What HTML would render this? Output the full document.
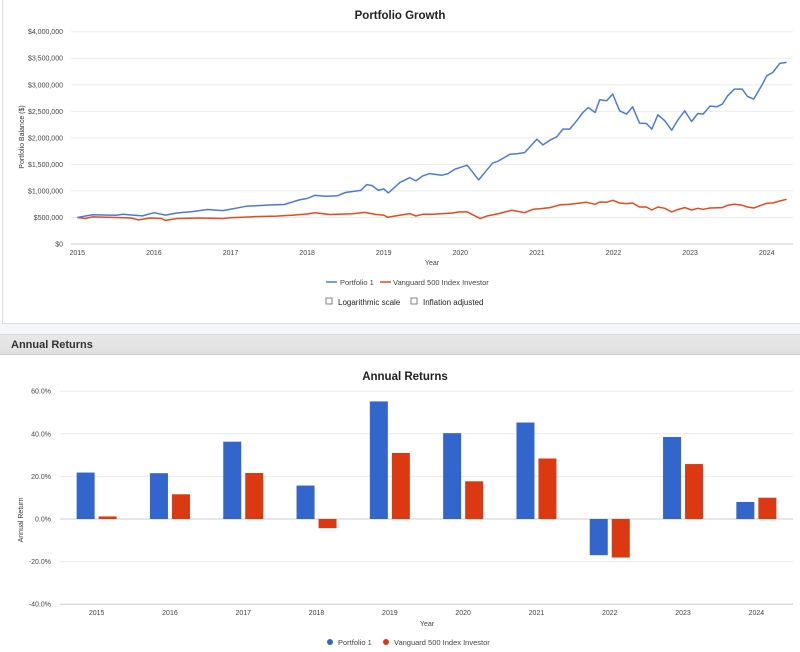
<!DOCTYPE html>
<html><head><meta charset="utf-8"><style>
body{margin:0;width:800px;height:652px;background:#fff;font-family:"Liberation Sans",sans-serif;overflow:hidden;position:relative}
#top{position:absolute;left:2px;top:0;width:800px;height:323px;border-left:1px solid #ddd;border-bottom:1px solid #ddd;background:#fff}
#gap{position:absolute;left:0;top:324px;width:800px;height:10px;background:#f5f6fa}
#hdr{position:absolute;left:0;top:334px;width:800px;height:21px;background:linear-gradient(#e8e8e8,#e0e0e0);border-top:1px solid #d8d8d8;border-bottom:1px solid #ccc;font-weight:bold;font-size:11px;line-height:21px;color:#333;padding-left:11px;box-sizing:border-box}
svg{position:absolute;left:0;top:0}
text{font-family:"Liberation Sans",sans-serif}
</style></head><body>
<div id="top"></div>
<div id="gap"></div>
<div id="hdr">Annual Returns</div>
<svg id="svg" width="800" height="652">
<text x="400" y="19" text-anchor="middle" font-size="11.5" font-weight="bold" fill="#222">Portfolio Growth</text>
<g id="g1"></g>
<text x="405" y="380" text-anchor="middle" font-size="11.5" font-weight="bold" fill="#222">Annual Returns</text>
<g id="g2"></g>
<g>
<line x1="326" y1="282" x2="337" y2="282" stroke="#4a7bdc" stroke-width="1.5"/>
<text x="340" y="285" font-size="7.5" fill="#444">Portfolio 1</text>
<line x1="380" y1="282" x2="391" y2="282" stroke="#e8491d" stroke-width="1.5"/>
<text x="393" y="285" font-size="7.5" fill="#444">Vanguard 500 Index Investor</text>
</g>
<rect x="326" y="298" width="6" height="6" fill="#fff" stroke="#666" stroke-width="0.8"/>
<text x="338" y="305" font-size="8" fill="#222">Logarithmic scale</text>
<rect x="411" y="298" width="6" height="6" fill="#fff" stroke="#666" stroke-width="0.8"/>
<text x="423" y="305" font-size="8" fill="#222">Inflation adjusted</text>
<g>
<circle cx="330" cy="642" r="3" fill="#3366cc"/>
<text x="338" y="645" font-size="7.5" fill="#444">Portfolio 1</text>
<circle cx="386" cy="642" r="3" fill="#dc3912"/>
<text x="394" y="645" font-size="7.5" fill="#444">Vanguard 500 Index Investor</text>
</g>
</svg>
<script>
const growthTicks=[0,500000,1000000,1500000,2000000,2500000,3000000,3500000,4000000];
const yearTicks=[2015,2016,2017,2018,2019,2020,2021,2022,2023,2024];
const p1Dates=[2015.00,2015.2,2015.5,2015.6,2015.85,2016.0,2016.15,2016.3,2016.5,2016.7,2016.9,2017.0,2017.2,2017.5,2017.7,2017.9,2018.0,2018.1,2018.25,2018.4,2018.5,2018.7,2018.78,2018.85,2018.93,2019.0,2019.06,2019.21,2019.34,2019.42,2019.51,2019.60,2019.76,2019.84,2019.93,2020.09,2020.24,2020.42,2020.50,2020.65,2020.75,2020.84,2020.94,2021.00,2021.08,2021.17,2021.26,2021.34,2021.43,2021.52,2021.60,2021.67,2021.76,2021.82,2021.91,2021.99,2022.08,2022.17,2022.25,2022.34,2022.43,2022.50,2022.58,2022.67,2022.76,2022.84,2022.93,2023.02,2023.10,2023.17,2023.26,2023.35,2023.42,2023.49,2023.58,2023.68,2023.75,2023.83,2023.94,2024.00,2024.08,2024.17,2024.26];
const p1Values=[500,550,540,560,530,590,545,585,610,650,630,655,710,735,745,830,860,915,900,910,970,1010,1120,1100,1010,1040,960,1157,1251,1189,1283,1327,1296,1327,1409,1484,1208,1522,1566,1692,1704,1723,1881,1975,1868,1956,2019,2164,2164,2321,2478,2572,2478,2717,2698,2824,2509,2447,2585,2277,2270,2164,2434,2321,2145,2334,2509,2308,2459,2447,2598,2585,2636,2792,2918,2918,2780,2730,3000,3170,3232,3402,3421];
const vgDates=[2015.0,2015.1,2015.2,2015.5,2015.7,2015.8,2015.95,2016.1,2016.15,2016.3,2016.6,2016.9,2017.0,2017.3,2017.6,2017.8,2018.0,2018.1,2018.3,2018.6,2018.75,2018.9,2019.0,2019.05,2019.21,2019.34,2019.42,2019.51,2019.64,2019.77,2019.90,2019.99,2020.09,2020.26,2020.35,2020.50,2020.67,2020.84,2020.95,2021.04,2021.17,2021.30,2021.43,2021.65,2021.76,2021.82,2021.91,2021.99,2022.08,2022.17,2022.25,2022.34,2022.43,2022.50,2022.58,2022.67,2022.76,2022.84,2022.93,2023.02,2023.10,2023.17,2023.26,2023.42,2023.49,2023.58,2023.68,2023.75,2023.83,2023.94,2024.00,2024.08,2024.17,2024.26];
const vgValues=[500,480,510,500,490,455,490,480,445,480,490,480,495,515,525,540,565,590,555,570,595,555,545,505,541,572,528,560,560,572,585,604,604,478,528,572,635,591,654,666,685,736,748,786,748,792,786,824,773,761,773,698,698,641,698,673,604,648,685,641,673,654,679,685,729,748,729,698,679,736,767,773,811,842];
const retCategories=["2015","2016","2017","2018","2019","2020","2021","2022","2023","2024"];
const p1Returns=[21.8,21.5,36.3,15.7,55.2,40.3,45.3,-17.0,38.5,8.0];
const vgReturns=[1.2,11.6,21.6,-4.3,31.0,17.7,28.4,-18.1,25.8,10.0];
const retTicks=[-40,-20,0,20,40,60];
const NS='http://www.w3.org/2000/svg';
function mk(p,t,a){const e=document.createElementNS(NS,t);for(const k in a)e.setAttribute(k,a[k]);p.appendChild(e);return e;}
// growth chart
const g1=document.getElementById('g1');
const gx=d=>77.3+(d-2015)*76.6, gy=v=>244-v/4000000*212.3;
growthTicks.forEach(t=>{
 const l=mk(g1,'line',{x1:71,x2:793,y1:gy(t),y2:gy(t),stroke:t===0?'#ccc':'#ebebeb','stroke-width':1});
 
 
 const tx=mk(g1,'text',{x:63,y:gy(t)+2.5,'text-anchor':'end','font-size':7,fill:'#444'});
 tx.textContent='$'+t.toLocaleString('en-US');
 
 
});
yearTicks.forEach(y=>{
 const tx=mk(g1,'text',{x:gx(y),y:255,'text-anchor':'middle','font-size':7,fill:'#444'});
 tx.textContent=y;
 
 
});
let t=mk(g1,'text',{x:432,y:265,'text-anchor':'middle','font-size':7,fill:'#444'});t.textContent='Year';


t=mk(g1,'text',{transform:'translate(24,137) rotate(-90)','text-anchor':'middle','font-size':7,fill:'#333'});t.textContent='Portfolio Balance ($)';


function line(ds,vs,c,name){
 const pts=ds.map((d,i)=>gx(d).toFixed(1)+','+gy(vs[i]*1000).toFixed(1)).join(' ');
 const pl=mk(g1,'polyline',{points:pts,fill:'none',stroke:c,'stroke-width':1.5,'stroke-linejoin':'round'});
 
 
}
line(vgDates,vgValues,'#e8491d','vanguard-line');
line(p1Dates,p1Values,'#4a7bdc','portfolio-1-line');
// returns chart
const g2=document.getElementById('g2');
const ry=v=>519-v/20*42.6, cw=73.3, bx=i=>60+cw*(i+0.5);
retTicks.forEach(v=>{
 const l=mk(g2,'line',{x1:60,x2:793,y1:ry(v),y2:ry(v),stroke:(v===0||v===-40)?'#ccc':'#ebebeb','stroke-width':1});
 
 
 const tx=mk(g2,'text',{x:51,y:ry(v)+2.5,'text-anchor':'end','font-size':7,fill:'#444'});
 tx.textContent=v.toFixed(1)+'%';
 
 
});
retCategories.forEach((c,i)=>{
 const tx=mk(g2,'text',{x:bx(i),y:615,'text-anchor':'middle','font-size':7,fill:'#444'});
 tx.textContent=c;
 
 
 [[p1Returns[i],'#3366cc',-20,'bar-portfolio-1-'+c],[vgReturns[i],'#dc3912',2,'bar-vanguard-'+c]].forEach(([v,col,off,nm])=>{
  const y0=ry(Math.max(v,0)),h=Math.abs(ry(v)-ry(0));
  const r=mk(g2,'rect',{x:bx(i)+off,y:y0,width:18,height:Math.max(h,1),fill:col});
  
  
 });
});
t=mk(g2,'text',{x:427,y:626,'text-anchor':'middle','font-size':7,fill:'#444'});t.textContent='Year';


t=mk(g2,'text',{transform:'translate(23,520) rotate(-90)','text-anchor':'middle','font-size':7,fill:'#333'});t.textContent='Annual Return';


</script>
</body></html>
